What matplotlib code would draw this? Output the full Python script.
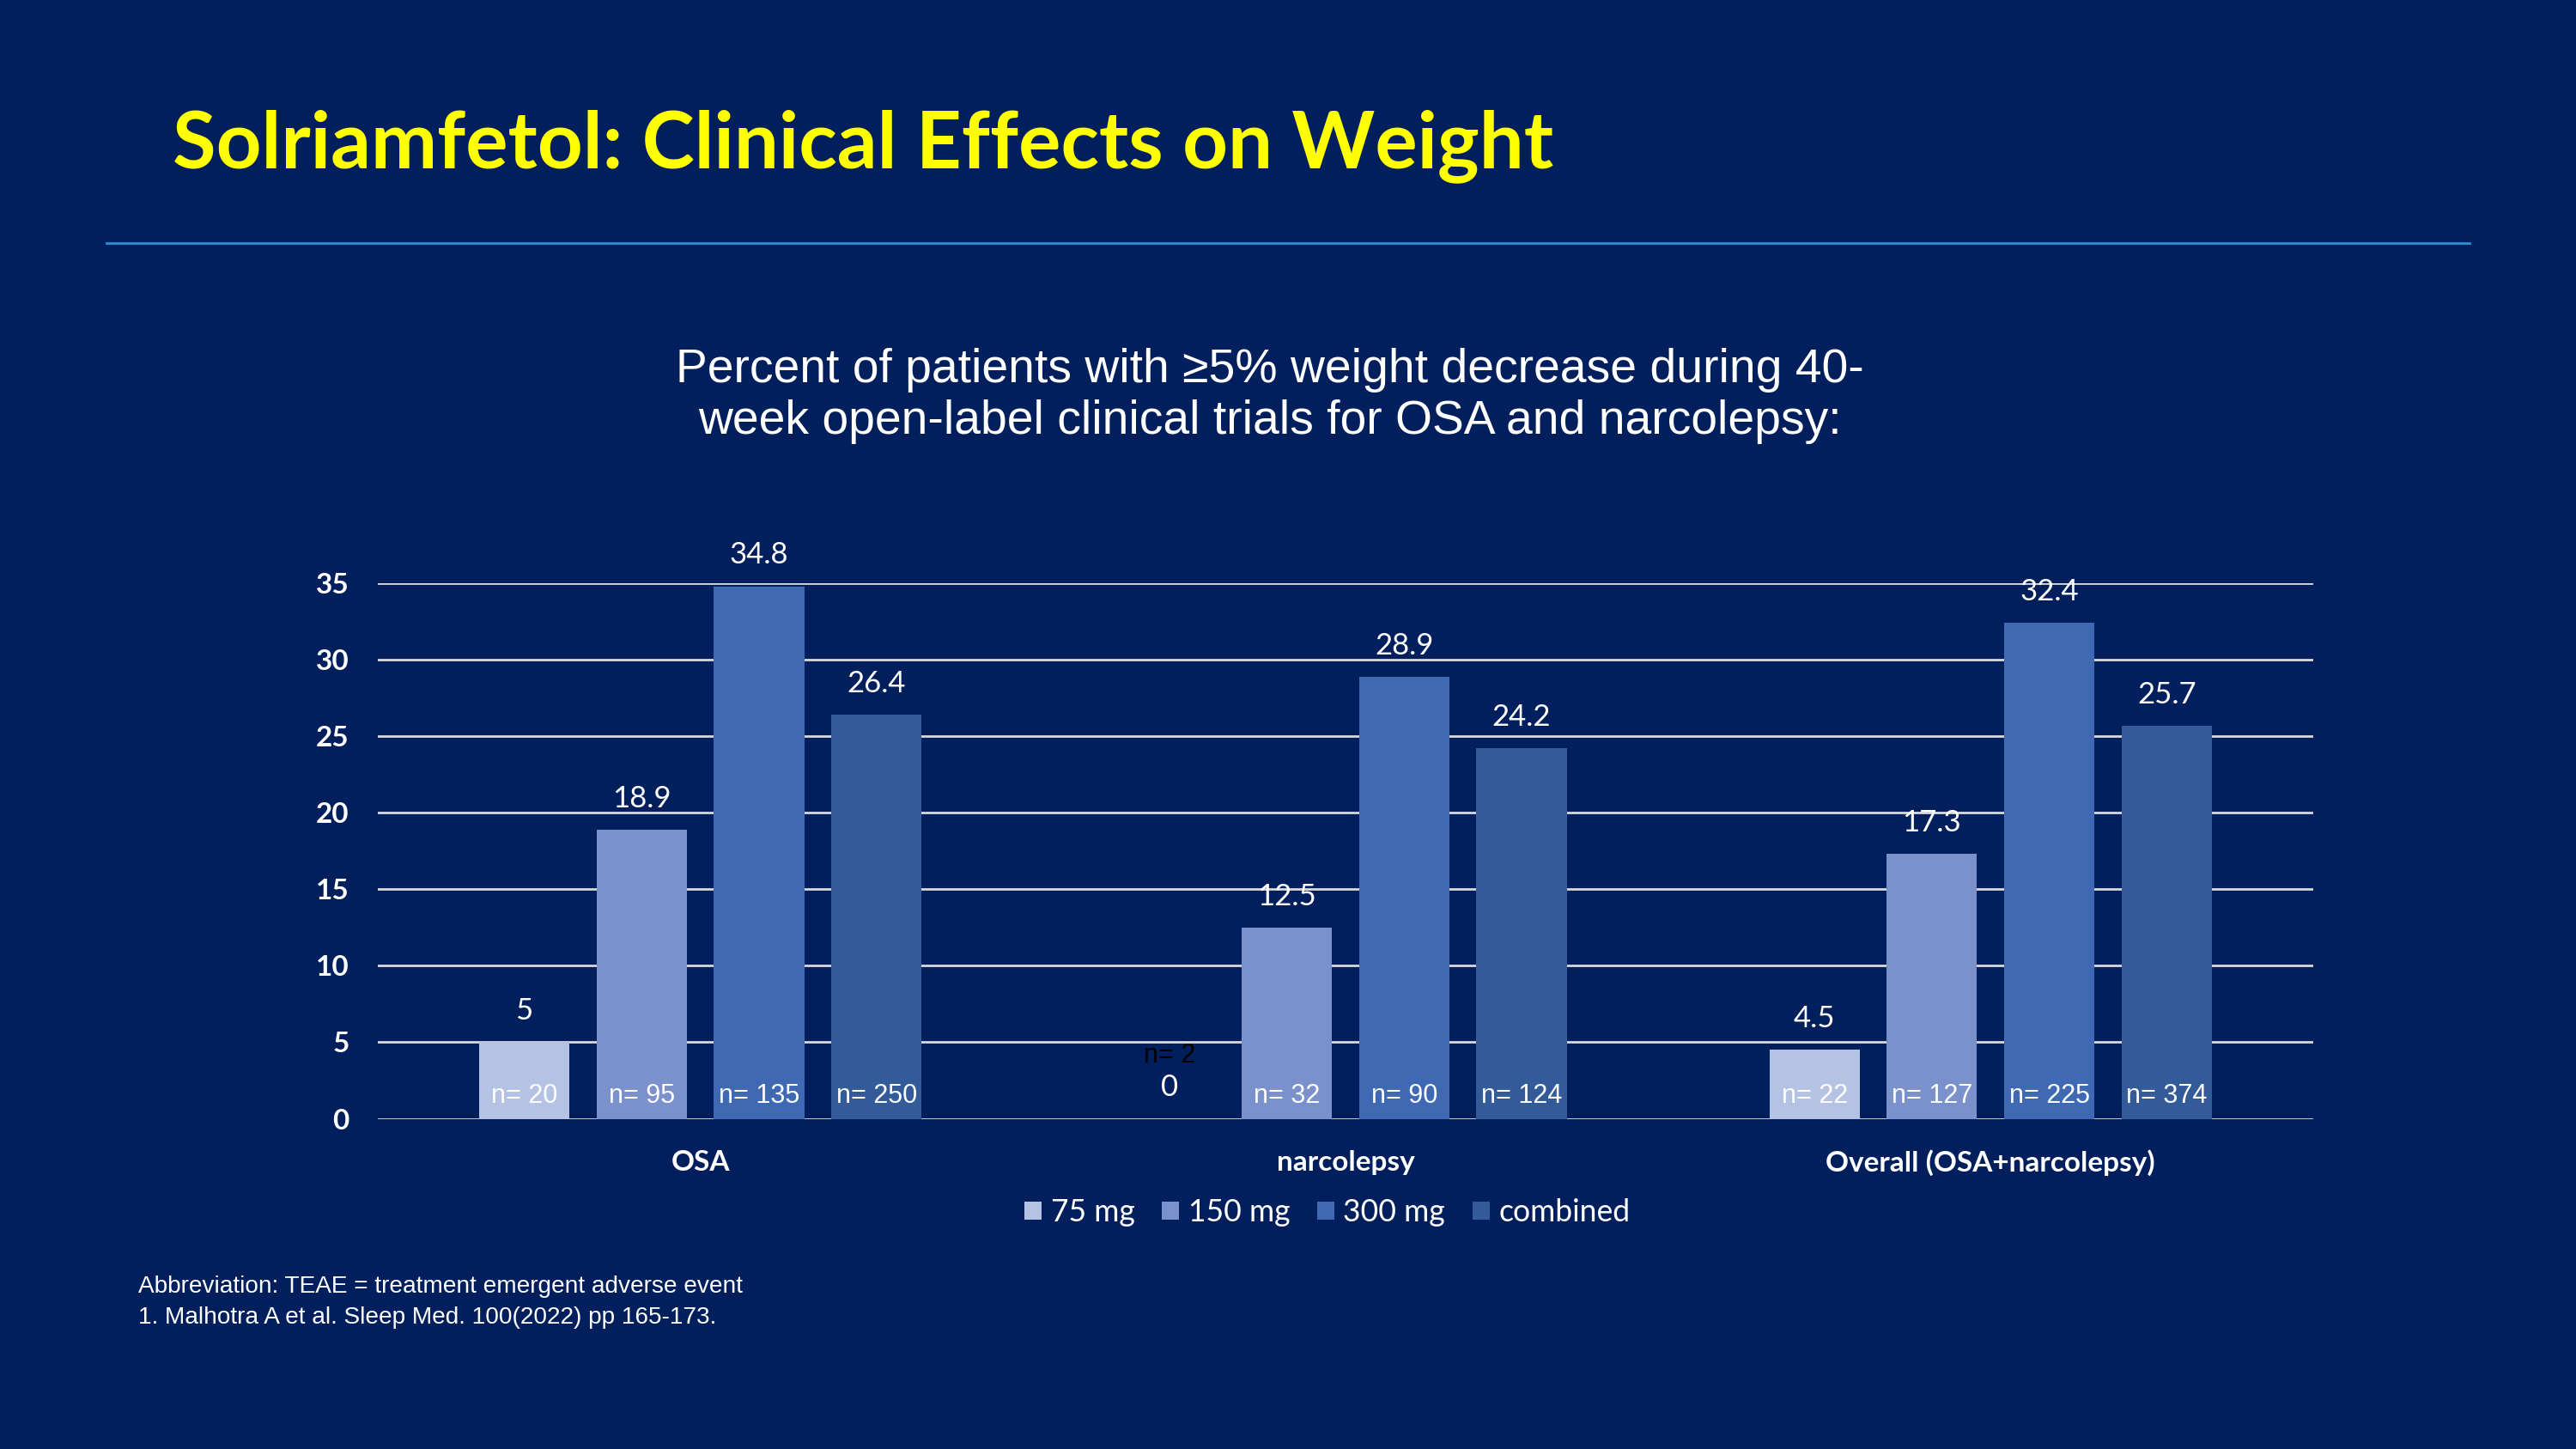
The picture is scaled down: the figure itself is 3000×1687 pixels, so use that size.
import numpy as np
import matplotlib
matplotlib.use('Agg')
import matplotlib.pyplot as plt

# data
groups = ['OSA', 'narcolepsy', 'Overall (OSA+narcolepsy)']
doses = ['75 mg', '150 mg', '300 mg', 'combined']
pct_75 = [5, 0, 4.5]
pct_150 = [18.9, 12.5, 17.3]
pct_300 = [34.8, 28.9, 32.4]
pct_comb = [26.4, 24.2, 25.7]
n_75 = [20, 2, 22]
n_150 = [95, 32, 127]
n_300 = [135, 90, 225]
n_comb = [250, 124, 374]
yticks = [0, 5, 10, 15, 20, 25, 30, 35]

series = [pct_75, pct_150, pct_300, pct_comb]
counts = [n_75, n_150, n_300, n_comb]
colors = ['#B4C2E3', '#7A91CC', '#3F69B3', '#335A99']

bg = '#001F5C'
W, H = 1568, 882  # reference layout units


def fx(x):
    return x / W


def fy(y):
    return 1 - y / H


fig = plt.figure(figsize=(15, 8.435), dpi=200, facecolor=bg)

# slide title + rule
fig.text(fx(105), fy(89), 'Solriamfetol: Clinical Effects on Weight', color='#FFFF00',
         fontsize=33.2, fontweight='bold', family='Lato', ha='left', va='center')
fig.add_artist(plt.Line2D([fx(65), fx(1503)], [fy(148), fy(148)], color='#2E8FD0', lw=1.0))

fig.text(fx(773), fy(241), 'Percent of patients with \u22655% weight decrease during 40-\n'
         'week open-label clinical trials for OSA and narcolepsy:',
         color='white', fontsize=19.9, family='Liberation Sans', ha='center', va='center',
         linespacing=1.2)

ax = fig.add_axes([fx(230), fy(681), fx(1408) - fx(230), fy(355) - fy(681)])
ax.set_facecolor(bg)

x = np.arange(len(groups))
step = 0.182
width = 0.14
for i, (vals, ns, c, lab) in enumerate(zip(series, counts, colors, doses)):
    xs = x + (i - 1.5) * step
    ax.bar(xs, vals, width=width, color=c, label=lab, zorder=3)
    for xi, v, n in zip(xs, vals, ns):
        ax.annotate(f'{v:g}', (xi, v), xytext=(0, 13), textcoords='offset points',
                    ha='center', va='center', color='white', fontsize=12.5,
                    family='Lato', annotation_clip=False)
        if v == 0:
            ax.annotate(f'n= {n}', (xi, 0), xytext=(0, 26.5), textcoords='offset points',
                        ha='center', va='center', color='black', fontsize=11,
                        family='Liberation Sans')
        else:
            ax.annotate(f'n= {n}', (xi, 0), xytext=(0, 9.5), textcoords='offset points',
                        ha='center', va='center', color='white', fontsize=11,
                        family='Liberation Sans', zorder=4)

ax.set_xlim(-0.5, 2.5)
ax.set_ylim(0, 35)
ax.set_yticks(yticks)
ax.yaxis.grid(True, color='#D9D9D9', lw=1.0, zorder=0)
ax.set_axisbelow(True)
for s in ax.spines.values():
    s.set_visible(False)
ax.set_xticks(x)
ax.set_xticklabels(groups)
ax.tick_params(axis='both', length=0, colors='white')
ax.tick_params(axis='y', pad=12)
ax.tick_params(axis='x', pad=13)
for t in ax.get_yticklabels() + ax.get_xticklabels():
    t.set_fontweight('bold')
    t.set_fontsize(12)
    t.set_family('Lato')

leg = fig.legend(loc='center', bbox_to_anchor=(fx(808), fy(738)), ncol=4, frameon=False,
                 handlelength=0.55, handleheight=0.55, handletextpad=0.3, columnspacing=0.9,
                 prop={'family': 'Lato', 'size': 12.8})
for t in leg.get_texts():
    t.set_color('white')

fig.text(fx(84), fy(783), 'Abbreviation: TEAE = treatment emergent adverse event',
         color='white', fontsize=10.1, family='Liberation Sans', ha='left', va='center')
fig.text(fx(84), fy(802), '1. Malhotra A et al. Sleep Med. 100(2022) pp 165-173.',
         color='white', fontsize=10.1, family='Liberation Sans', ha='left', va='center')

fig.savefig('out.png', dpi=200, facecolor=bg)
